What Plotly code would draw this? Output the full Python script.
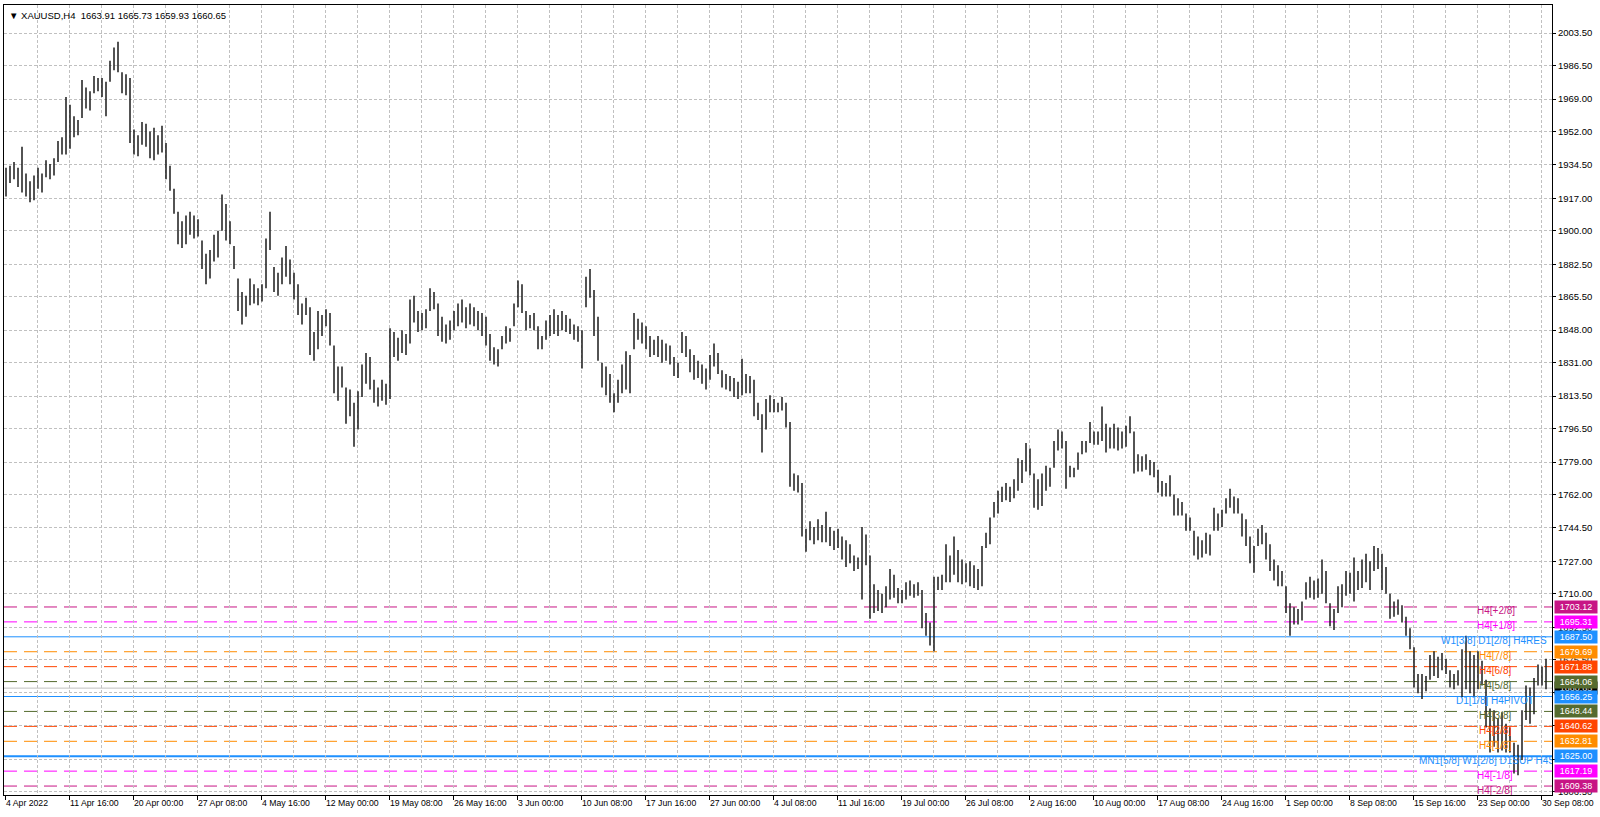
import plotly.graph_objects as go

# ---------------- data ----------------
symbol_title = "XAUUSD,H4"
last_ohlc = [1663.91, 1665.73, 1659.93, 1660.65]

# each entry = one 8-hour span (two H4 bars), 4 Apr 2022 -> 30 Sep 2022
bar_high = [
    1933, 1934, 1936, 1933, 1944, 1930, 1926, 1929, 1933, 1930,
    1937, 1935, 1938, 1947, 1949, 1970, 1966, 1960, 1958, 1979,
    1975, 1973, 1981, 1980, 1980, 1978, 1989, 1996, 1999, 1983,
    1982, 1980, 1953, 1950, 1957, 1956, 1952, 1954, 1950, 1955,
    1946, 1934, 1922, 1910, 1905, 1908, 1910, 1908, 1906, 1895,
    1888, 1890, 1898, 1900, 1919, 1914, 1905, 1892, 1875, 1868,
    1866, 1875, 1872, 1870, 1872, 1896, 1910, 1881, 1878, 1886,
    1892, 1885, 1878, 1872, 1862, 1865, 1860, 1847, 1858, 1856,
    1859, 1857, 1840, 1829, 1829, 1818, 1817, 1810, 1816, 1830,
    1836, 1834, 1822, 1818, 1822, 1820, 1849, 1847, 1844, 1848,
    1846, 1864, 1866, 1858, 1857, 1859, 1870, 1868, 1862, 1855,
    1851, 1853, 1858, 1862, 1864, 1860, 1862, 1860, 1858, 1857,
    1855, 1846, 1839, 1838, 1845, 1850, 1849, 1862, 1874, 1872,
    1858, 1856, 1857, 1850, 1845, 1853, 1856, 1859, 1856, 1858,
    1856, 1854, 1851, 1850, 1848, 1876, 1880, 1869, 1855, 1831,
    1829, 1825, 1815, 1822, 1830, 1837, 1835, 1857, 1854, 1852,
    1850, 1845, 1843, 1845, 1843, 1841, 1840, 1834, 1831, 1847,
    1845, 1838, 1835, 1832, 1830, 1828, 1835, 1841, 1836, 1827,
    1825, 1824, 1823, 1821, 1833, 1825, 1824, 1822, 1810, 1804,
    1812, 1814, 1812, 1810, 1813, 1810, 1800, 1773, 1772, 1768,
    1744, 1748, 1745, 1749, 1746, 1753, 1745, 1743, 1744, 1740,
    1738, 1736, 1730, 1729, 1745, 1741, 1730, 1715, 1712, 1710,
    1714, 1723, 1720, 1713, 1712, 1716, 1717, 1715, 1716, 1712,
    1700, 1695, 1719, 1719, 1720, 1736, 1730, 1740, 1733, 1728,
    1726, 1727, 1725, 1723, 1735, 1742, 1750, 1758, 1764, 1766,
    1768, 1766, 1770, 1781, 1780, 1789, 1786, 1773, 1770, 1773,
    1777, 1776, 1790, 1796, 1795, 1790, 1777, 1776, 1784, 1790,
    1790, 1800, 1795, 1795, 1808, 1799, 1797, 1799, 1797, 1795,
    1798, 1803, 1795, 1783, 1782, 1783, 1780, 1779, 1775, 1769,
    1768, 1772, 1762, 1760, 1758, 1752, 1750, 1743, 1740, 1738,
    1742, 1741, 1755, 1752, 1754, 1760, 1765, 1761, 1760, 1752,
    1749, 1740, 1735, 1744, 1746, 1742, 1736, 1728, 1725, 1722,
    1714, 1705, 1703, 1702, 1706, 1716, 1719, 1717, 1718, 1728,
    1722, 1705, 1702, 1714, 1715, 1722, 1721, 1729, 1722, 1728,
    1731, 1727, 1735, 1734, 1731, 1724, 1710, 1706, 1707, 1704,
    1698, 1692, 1682, 1668, 1668, 1667, 1678, 1680, 1677, 1679,
    1676, 1670, 1668, 1670, 1681, 1688, 1680, 1678, 1680, 1675,
    1665, 1650, 1649, 1645, 1648, 1642, 1640, 1632, 1631, 1649,
    1662, 1661, 1666, 1673, 1672, 1676,
]
bar_low = [
    1918, 1925, 1927, 1923, 1920, 1918, 1915, 1916, 1922, 1920,
    1928, 1927, 1929, 1936, 1940, 1940, 1943, 1949, 1950, 1959,
    1964, 1963, 1972, 1973, 1970, 1960, 1978, 1984, 1983, 1972,
    1971, 1946, 1940, 1939, 1945, 1944, 1938, 1937, 1940, 1941,
    1927, 1921, 1909, 1893, 1891, 1893, 1898, 1896, 1897, 1880,
    1872, 1875, 1884, 1886, 1900, 1895, 1893, 1880, 1858, 1851,
    1855, 1861, 1862, 1861, 1863, 1870, 1890, 1868, 1866, 1872,
    1876, 1872, 1864, 1856, 1851, 1856, 1835, 1832, 1838, 1845,
    1850, 1840, 1815, 1811, 1818, 1799, 1803, 1787, 1796, 1813,
    1820, 1817, 1810, 1808, 1811, 1809, 1812, 1834, 1832, 1836,
    1835, 1841, 1852, 1847, 1848, 1849, 1858, 1859, 1845, 1842,
    1841, 1843, 1848, 1850, 1852, 1849, 1851, 1850, 1848, 1845,
    1840, 1832, 1830, 1829, 1838, 1841, 1842, 1850, 1860, 1857,
    1848, 1849, 1848, 1838, 1838, 1843, 1845, 1846, 1845, 1848,
    1847, 1846, 1843, 1842, 1828, 1860, 1865, 1845, 1832, 1818,
    1814, 1810, 1805, 1810, 1815, 1817, 1815, 1838, 1843, 1841,
    1838, 1834, 1835, 1834, 1831, 1832, 1830, 1824, 1823, 1836,
    1834, 1826, 1822, 1823, 1820, 1817, 1822, 1829, 1825, 1818,
    1817, 1816, 1813, 1812, 1814, 1815, 1815, 1803, 1801, 1784,
    1796, 1805, 1805, 1805, 1806, 1797, 1766, 1764, 1763, 1740,
    1732, 1738, 1736, 1738, 1737, 1737, 1735, 1733, 1734, 1728,
    1724, 1726, 1722, 1723, 1707, 1725, 1697, 1700, 1701, 1700,
    1703, 1707, 1708, 1705, 1705, 1707, 1709, 1708, 1709, 1692,
    1688, 1683, 1680, 1712, 1712, 1716, 1716, 1720, 1716, 1715,
    1716, 1714, 1713, 1712, 1714, 1734, 1736, 1750, 1752, 1758,
    1759, 1758, 1760, 1764, 1768, 1774, 1772, 1755, 1754, 1756,
    1764, 1766, 1776, 1785, 1786, 1765, 1771, 1771, 1775, 1783,
    1784, 1789, 1788, 1788, 1790, 1784, 1786, 1786, 1785, 1786,
    1787, 1794, 1773, 1774, 1774, 1775, 1772, 1771, 1763, 1761,
    1761, 1761, 1751, 1751, 1751, 1743, 1743, 1730, 1728, 1729,
    1731, 1730, 1743, 1743, 1745, 1752, 1755, 1752, 1752, 1740,
    1735, 1726, 1721, 1735, 1736, 1728, 1722, 1717, 1714, 1714,
    1700, 1688, 1694, 1694, 1696, 1707, 1708, 1707, 1708, 1710,
    1705, 1693, 1691, 1700, 1703, 1709, 1710, 1706, 1712, 1713,
    1716, 1712, 1722, 1723, 1712, 1710, 1697, 1698, 1699, 1695,
    1688, 1681, 1661, 1658, 1655, 1659, 1665, 1667, 1666, 1670,
    1668, 1661, 1660, 1662, 1656, 1660, 1658, 1656, 1660, 1662,
    1640, 1627, 1630, 1627, 1628, 1627, 1627, 1616, 1615, 1623,
    1644, 1642, 1647, 1662, 1662, 1660,
]

time_labels = [
    "4 Apr 2022", "11 Apr 16:00", "20 Apr 00:00", "27 Apr 08:00", "4 May 16:00",
    "12 May 00:00", "19 May 08:00", "26 May 16:00", "3 Jun 00:00", "10 Jun 08:00",
    "17 Jun 16:00", "27 Jun 00:00", "4 Jul 08:00", "11 Jul 16:00", "19 Jul 00:00",
    "26 Jul 08:00", "2 Aug 16:00", "10 Aug 00:00", "17 Aug 08:00", "24 Aug 16:00",
    "1 Sep 00:00", "8 Sep 08:00", "15 Sep 16:00", "23 Sep 00:00", "30 Sep 08:00",
]
price_ticks = [
    2003.50, 1986.50, 1969.00, 1952.00, 1934.50, 1917.00, 1900.00, 1882.50,
    1865.50, 1848.00, 1831.00, 1813.50, 1796.50, 1779.00, 1762.00, 1744.50,
    1727.00, 1710.00, 1692.50, 1675.50, 1658.50, 1641.00, 1623.50, 1606.50,
]

level_prices = [1703.12, 1695.31, 1687.50, 1679.69, 1671.88, 1664.06, 1656.25,
                1648.44, 1640.62, 1632.81, 1625.00, 1617.19, 1609.38]
level_names = ["H4[+2/8]", "H4[+1/8]", "W1[3/8] D1[2/8] H4RES", "H4[7/8]", "H4[6/8]",
               "H4[5/8]", "D1[1/8] H4PIVOT", "H4[3/8]", "H4[2/8]", "H4[1/8]",
               "MN1[5/8] W1[2/8] D1SUP H4SUP", "H4[-1/8]", "H4[-2/8]"]
# H4 bar (time) at which each level's text object is anchored
level_anchor_bar = [736, 736, 718, 737, 737, 737, 725.5, 737, 737, 737, 707, 736, 736]

# ---------------- styles ----------------
level_colors = ["#C71585", "#FF00FF", "#1E90FF", "#FF8C00", "#FF4500", "#556B2F", "#1E90FF",
                "#556B2F", "#FF4500", "#FF8C00", "#1E90FF", "#FF00FF", "#C71585"]
level_solid = [False, False, True, False, False, False, True, False, False, False, True, False, False]
level_width = [1, 1, 1, 1, 1, 1, 1, 1, 1, 1, 2, 1, 1]

FONT = "Liberation Sans"
GRID = "#C0C0C0"
BARS_PER_ENTRY = 2      # two H4 bars per entry
BARS_PER_LABEL = 32     # time label every 32 H4 bars
BARS_PER_GRID = 16

n = len(bar_high)
assert n == len(bar_low)
bar_x = [BARS_PER_ENTRY * i + 0.5 for i in range(n)]
total_bars = 774

xs, ys = [], []
for x, h, l in zip(bar_x, bar_high, bar_low):
    xs += [x, x, None]
    ys += [l, h, None]

fig = go.Figure()
fig.add_trace(go.Scatter(x=xs, y=ys, mode="lines", line=dict(color="#1a1a1a", width=1.5),
                         hoverinfo="skip", showlegend=False, cliponaxis=True))

# bid line
fig.add_shape(type="line", xref="paper", x0=0, x1=1, yref="y", y0=last_ohlc[3], y1=last_ohlc[3],
              line=dict(color="#C0C0C0", width=1), layer="below")

# level lines + texts
for p, name, c, solid, w, ab in zip(level_prices, level_names, level_colors, level_solid,
                                     level_width, level_anchor_bar):
    fig.add_shape(type="line", xref="paper", x0=0, x1=1, yref="y", y0=p, y1=p,
                  line=dict(color=c, width=w, dash="solid" if solid else "13px,7px"),
                  layer="below")
    fig.add_trace(go.Scatter(x=[ab], y=[p], mode="text", text=[name], textposition="bottom right",
                             textfont=dict(family=FONT, size=10, color=c), cliponaxis=True,
                             hoverinfo="skip", showlegend=False))

annotations = []
# current price box (partly hidden under level boxes)
box = dict(xref="paper", x=1, xanchor="left", xshift=1.5, yref="y", showarrow=False,
           width=40, height=10, borderpad=1)
annotations.append(dict(box, y=last_ohlc[3], text=f"{last_ohlc[3]:.2f}", bgcolor="#000000",
                        font=dict(family=FONT, size=9, color="white")))
for p, c in zip(level_prices, level_colors):
    annotations.append(dict(box, y=p, text=f"{p:.2f}", bgcolor=c,
                            font=dict(family=FONT, size=9, color="white")))
annotations.append(dict(xref="paper", x=0, xanchor="left", xshift=3, yref="paper", y=1,
                        yanchor="top", yshift=-3, showarrow=False,
                        text="▼ " + symbol_title + "  " + " ".join(f"{v:.2f}" for v in last_ohlc),
                        font=dict(family=FONT, size=9.5, color="#000000")))

label_bars = [BARS_PER_LABEL * k for k in range(len(time_labels))]
grid_bars = list(range(0, total_bars, BARS_PER_GRID))

fig.update_layout(
    template="none",
    width=1600, height=817,
    margin=dict(l=4, r=48, t=5, b=22, pad=0),
    paper_bgcolor="white", plot_bgcolor="white",
    showlegend=False,
    annotations=annotations,
    xaxis=dict(range=[-0.5, total_bars - 0.5], tickmode="array", tickvals=label_bars,
               ticktext=time_labels, ticklabelposition="outside right",
               ticks="outside", ticklen=4, tickcolor="#000000",
               tickfont=dict(family=FONT, size=8.7, color="#000000"),
               showgrid=False, zeroline=False,
               minor=dict(tickmode="array", tickvals=grid_bars, showgrid=True,
                          gridcolor=GRID, griddash="3px,2px", gridwidth=1, ticks=""),
               showline=True, mirror=True, linecolor="#000000", linewidth=1, fixedrange=True),
    yaxis=dict(range=[1604.7, 2018.2], side="right", tickmode="array", tickvals=price_ticks,
               ticktext=[f"{v:.2f}" for v in price_ticks],
               ticks="outside", ticklen=3, tickcolor="#000000",
               tickfont=dict(family=FONT, size=9.5, color="#000000"),
               showgrid=True, gridcolor=GRID, griddash="3px,2px", gridwidth=1, zeroline=False,
               showline=True, mirror=True, linecolor="#000000", linewidth=1, fixedrange=True),
)

fig.write_html("out.html", config={"displayModeBar": False},
               post_script="document.body.style.margin='0';document.body.style.overflow='hidden';")
